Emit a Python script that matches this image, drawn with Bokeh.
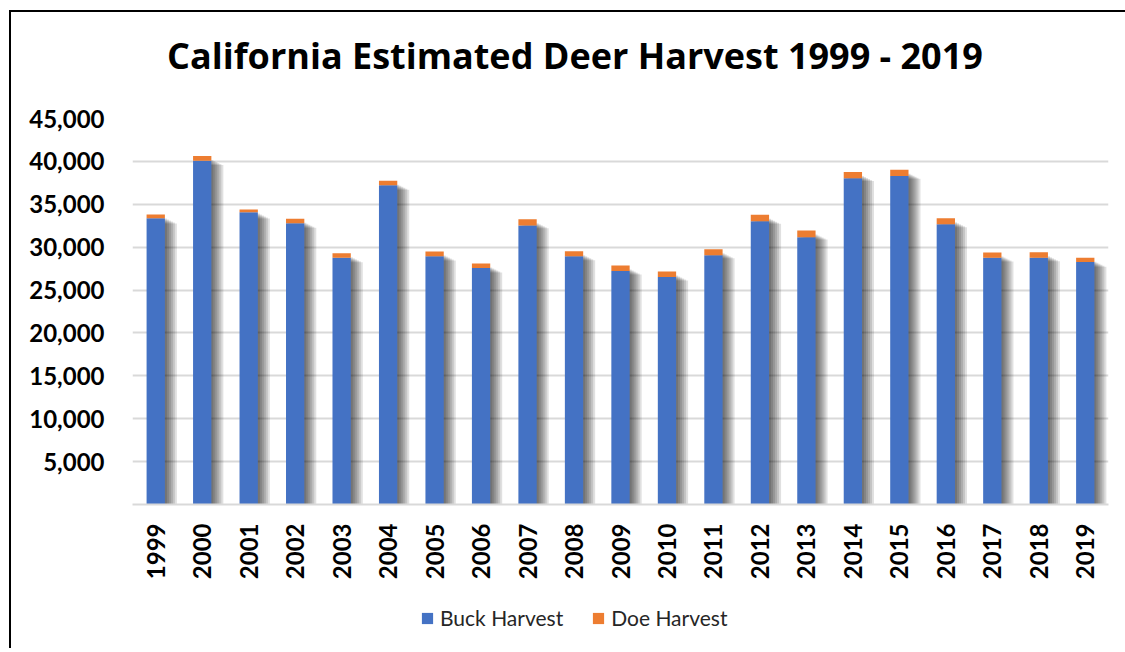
import math
from bokeh.plotting import figure
from bokeh.layouts import column
from bokeh.models import (ColumnDataSource, FactorRange, Range1d, FixedTicker,
                          NumeralTickFormatter, Legend, LegendItem, Div)
from bokeh.transform import dodge
from bokeh.embed import file_html
from bokeh.resources import INLINE

# ---- data ----
years = ["1999", "2000", "2001", "2002", "2003", "2004", "2005", "2006", "2007",
         "2008", "2009", "2010", "2011", "2012", "2013", "2014", "2015", "2016",
         "2017", "2018", "2019"]
buck = [33370, 40080, 34070, 32790, 28770, 37210, 28950, 27560, 32520, 28950,
        27210, 26510, 29070, 33020, 31160, 38020, 38300, 32670, 28770, 28770, 28260]
doe = [430, 550, 310, 510, 530, 545, 550, 540, 740, 580,
       660, 660, 700, 750, 780, 750, 735, 700, 610, 650, 510]
y_ticks = [5000, 10000, 15000, 20000, 25000, 30000, 35000, 40000, 45000]
series_names = ["Buck Harvest", "Doe Harvest"]
title_text = "California Estimated Deer Harvest 1999 - 2019"

BLUE = "#4472C4"
ORANGE = "#ED7D31"
FONT = "Lato"
W = 1114

Y_MAX = 45000
FRAME_H = 386  # px
px = Y_MAX / FRAME_H  # data units per pixel

total = [b + d for b, d in zip(buck, doe)]
data = dict(year=years, buck=buck, doe=doe)
shadow_px = [2, 4, 6, 8, 10, 12]
for i, s in enumerate(shadow_px):
    data[f"sh{i}"] = [t - (3 + s * 0.5) * px for t in total]
src = ColumnDataSource(data)

# ---- title ----
head = Div(text=title_text, width=W, height=90, margin=0,
           styles={"font-family": "'Open Sans'", "font-weight": "bold",
                   "font-size": "36px", "line-height": "88px",
                   "text-indent": "156px", "color": "black",
                   "white-space": "nowrap", "overflow": "hidden"})

# ---- main chart ----
p = figure(x_range=FactorRange(*years), y_range=Range1d(0, Y_MAX),
           width=W, height=488, output_backend="svg", toolbar_location=None,
           min_border_left=121, min_border_right=17, min_border_top=16,
           min_border_bottom=86, title=None)
p.outline_line_color = None
p.background_fill_color = "white"
p.border_fill_color = "white"

p.xgrid.grid_line_color = None
p.ygrid.grid_line_color = "#D9D9D9"
p.ygrid.grid_line_width = 2

p.yaxis.ticker = FixedTicker(ticks=y_ticks)
p.yaxis.formatter = NumeralTickFormatter(format="0,0")
p.yaxis.axis_line_color = None
p.yaxis.major_tick_line_color = None
p.yaxis.minor_tick_line_color = None
p.yaxis.major_label_text_font = FONT
p.yaxis.major_label_text_font_style = "bold"
p.yaxis.major_label_text_font_size = "24px"
p.yaxis.major_label_text_color = "black"
p.yaxis.major_label_standoff = 22

p.xaxis.axis_line_color = "#D9D9D9"
p.xaxis.axis_line_width = 2
p.xaxis.major_tick_line_color = None
p.xaxis.minor_tick_line_color = None
p.xaxis.major_label_orientation = math.pi / 2
p.xaxis.major_label_text_font = FONT
p.xaxis.major_label_text_font_style = "bold"
p.xaxis.major_label_text_font_size = "24px"
p.xaxis.major_label_text_color = "black"
p.xaxis.major_label_standoff = 13

BAR_W = 0.394
CAT_PX = 976.5 / len(years)

for i, s in enumerate(shadow_px):
    p.vbar(x=dodge("year", s / CAT_PX, range=p.x_range), top=f"sh{i}", bottom=0,
           width=BAR_W, source=src, fill_color="black", fill_alpha=0.12,
           line_color=None)

p.vbar_stack(["buck", "doe"], x="year", width=BAR_W, source=src,
             color=[BLUE, ORANGE], line_color=None)

# ---- legend strip (same series; renderers hidden, only legend shown) ----
pl = figure(width=W, height=58, x_range=p.x_range, y_range=Range1d(0, Y_MAX),
            output_backend="svg", toolbar_location=None, min_border=0,
            x_axis_location=None, y_axis_location=None, title=None)
pl.grid.visible = False
pl.outline_line_color = None
pl.border_fill_color = "white"
lb, ld = pl.vbar_stack(["buck", "doe"], x="year", width=BAR_W, source=src,
                       color=[BLUE, ORANGE], line_color=None)
lb.visible = False
ld.visible = False
legend = Legend(items=[LegendItem(label=series_names[0], renderers=[lb]),
                       LegendItem(label=series_names[1], renderers=[ld])],
                orientation="horizontal", location=(288, 18),
                glyph_width=14, glyph_height=14, label_height=14,
                label_text_font=FONT, label_text_font_size="21px",
                label_text_color="#262626",
                label_standoff=6, spacing=28, padding=0, margin=0,
                inactive_fill_alpha=0,
                border_line_color=None, background_fill_alpha=0)
pl.add_layout(legend, "center")

layout = column(head, p, pl, spacing=0)
layout.styles = {"border-top": "2px solid black", "border-left": "2px solid black",
                 "margin-left": "9px", "margin-top": "10px",
                 "background-color": "white"}

open("out.html", "w").write(file_html(layout, INLINE))
